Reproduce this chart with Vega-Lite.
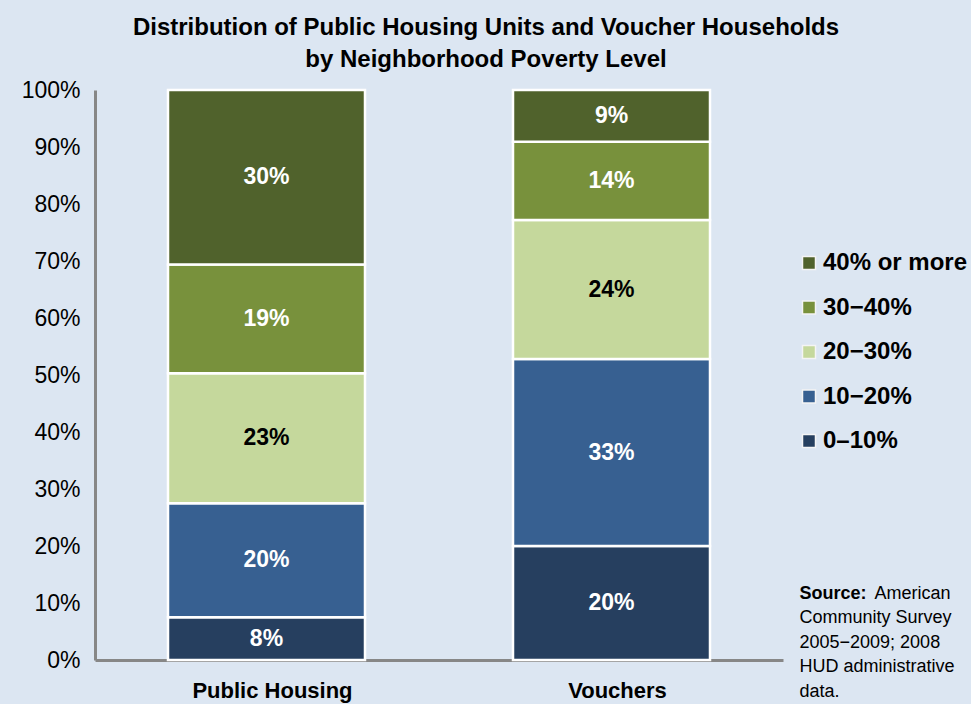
{
  "$schema": "https://vega.github.io/schema/vega-lite/v6.json",
  "width": 688,
  "height": 570,
  "autosize": {"type": "none"},
  "padding": {"left": 95, "top": 90, "right": 188, "bottom": 44},
  "background": "#dce6f2",
  "config": {"view": {"stroke": null}, "font": "Liberation Sans"},
  "title": {
    "text": ["Distribution of Public Housing Units and Voucher Households", "by Neighborhood Poverty Level"],
    "fontSize": 24,
    "fontWeight": "bold",
    "color": "#000000",
    "anchor": "middle",
    "dx": 47,
    "offset": 7,
    "lineHeight": 32
  },
  "data": {
    "values": [
      {"group": "Public Housing", "level": "0–10%", "rank": 1, "value": 0.075, "label": "8%"},
      {"group": "Public Housing", "level": "10−20%", "rank": 2, "value": 0.2, "label": "20%"},
      {"group": "Public Housing", "level": "20−30%", "rank": 3, "value": 0.228, "label": "23%"},
      {"group": "Public Housing", "level": "30−40%", "rank": 4, "value": 0.191, "label": "19%"},
      {"group": "Public Housing", "level": "40% or more", "rank": 5, "value": 0.306, "label": "30%"},
      {"group": "Vouchers", "level": "0–10%", "rank": 1, "value": 0.2, "label": "20%"},
      {"group": "Vouchers", "level": "10−20%", "rank": 2, "value": 0.328, "label": "33%"},
      {"group": "Vouchers", "level": "20−30%", "rank": 3, "value": 0.244, "label": "24%"},
      {"group": "Vouchers", "level": "30−40%", "rank": 4, "value": 0.137, "label": "14%"},
      {"group": "Vouchers", "level": "40% or more", "rank": 5, "value": 0.091, "label": "9%"}
    ]
  },
  "encoding": {
    "x": {
      "field": "group",
      "type": "nominal",
      "sort": ["Public Housing", "Vouchers"],
      "scale": {"paddingInner": 0.429, "paddingOuter": 0.2116},
      "axis": {
        "title": ["\u200d\u00a0\u00a0\u00a0\u00a0\u00a0\u00a0\u00a0\u00a0\u00a0\u00a0\u00a0\u00a0\u00a0\u00a0\u00a0American", "Community Survey", "2005−2009; 2008", "HUD administrative", "data."],
        "titleFontSize": 18,
        "titleFontWeight": "normal",
        "titleColor": "#000000",
        "titleAlign": "left",
        "titleBaseline": "top",
        "titleAnchor": "start",
        "titleLineHeight": 24.5,
        "titleX": 704,
        "titleY": -76,
        "labelAngle": 0,
        "labelFontSize": 22,
        "labelFontWeight": "bold",
        "labelColor": "#000000",
        "labelPadding": 20,
        "labelOffset": 6,
        "ticks": false,
        "tickSize": 0,
        "domainColor": "#878787",
        "domainWidth": 3
      }
    },
    "y": {
      "field": "value",
      "type": "quantitative",
      "stack": "zero",
      "scale": {"domain": [0, 1]},
      "axis": {
        "title": "Source:",
        "titleAngle": 0,
        "titleFontSize": 18,
        "titleFontWeight": "bold",
        "titleColor": "#000000",
        "titleAlign": "left",
        "titleBaseline": "top",
        "titleAnchor": "start",
        "titleX": 704,
        "titleY": 494,
        "format": ".0%",
        "values": [0, 0.1, 0.2, 0.3, 0.4, 0.5, 0.6, 0.7, 0.8, 0.9, 1],
        "grid": false,
        "ticks": false,
        "tickSize": 0,
        "labelFontSize": 23,
        "labelColor": "#000000",
        "labelPadding": 15,
        "domainColor": "#878787",
        "domainWidth": 3
      }
    },
    "order": {"field": "rank", "type": "quantitative"}
  },
  "layer": [
    {
      "mark": {"type": "bar", "stroke": "#ffffff", "strokeWidth": 2.5},
      "encoding": {
        "color": {
          "field": "level",
          "type": "nominal",
          "scale": {
            "domain": ["40% or more", "30−40%", "20−30%", "10−20%", "0–10%"],
            "range": ["#50622c", "#78913c", "#c5d89c", "#376091", "#263f5f"]
          },
          "legend": {
            "title": null,
            "orient": "none",
            "legendX": 702,
            "legendY": 161,
            "padding": 0,
            "symbolType": "square",
            "symbolSize": 169,
            "symbolStrokeColor": "#f4f4f4",
            "symbolStrokeWidth": 1.5,
            "symbolOpacity": 1,
            "labelFontSize": 24,
            "labelFontWeight": "bold",
            "labelColor": "#000000",
            "labelOffset": 2,
            "rowPadding": 20.5,
            "labelLimit": 300
          }
        }
      }
    },
    {
      "mark": {"type": "text", "fontSize": 23, "fontWeight": "bold"},
      "encoding": {
        "y": {"field": "value", "type": "quantitative", "stack": "zero", "bandPosition": 0.5},
        "detail": {"field": "level"},
        "text": {"field": "label"},
        "color": {
          "condition": {"test": "datum.level === '20−30%'", "value": "#000000"},
          "value": "#ffffff"
        }
      }
    }
  ]
}
